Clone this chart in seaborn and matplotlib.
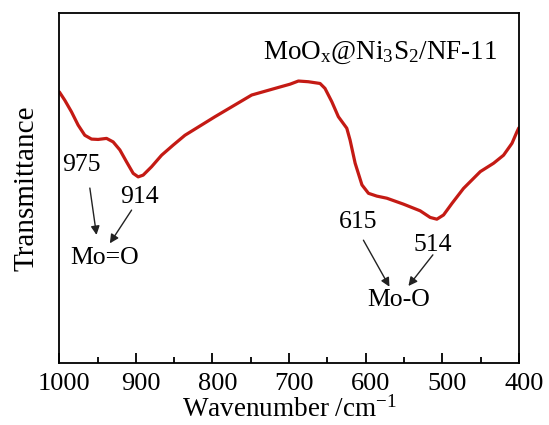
import matplotlib
matplotlib.use("Agg")
import matplotlib.pyplot as plt
import matplotlib.transforms as mtransforms
import seaborn as sns
import pandas as pd

# Data
wavenumber = [1000, 992.8, 984.1, 975.4, 966.7, 957.9, 949.3, 938.3, 929.7, 920.9,
              912.2, 903.5, 897.0, 890.5, 879.5, 866.4, 851.2, 835.9, 796.7, 748.8,
              711.8, 698.7, 687.8, 674.8, 659.5, 653.1, 644.2, 635.6, 624.6, 620.3,
              613.7, 604.8, 596.3, 585.4, 572.3, 550.6, 528.8, 515.7, 507.0, 498.3,
              487.3, 472.2, 450.3, 432.9, 419.9, 408.9, 402.4, 400]
transmittance = [77.5, 75.1, 71.8, 68.0, 65.1, 64.0, 63.9, 64.2, 63.2, 60.9,
                 57.5, 54.2, 53.2, 53.7, 56.1, 59.4, 62.3, 65.1, 70.4, 76.6,
                 78.9, 79.7, 80.6, 80.4, 79.9, 78.5, 74.7, 70.4, 67.1, 63.7,
                 57.1, 50.9, 48.5, 47.7, 47.1, 45.4, 43.5, 41.6, 41.1, 42.3,
                 45.6, 49.9, 54.7, 57.1, 59.4, 62.8, 66.1, 67.2]
x_ticks = [1000, 900, 800, 700, 600, 500, 400]
x_minor = [950, 850, 750, 650, 550, 450]
title_text = r'MoO$_\mathregular{x}$@Ni$_\mathregular{3}$S$_\mathregular{2}$/NF-11'
peak_labels = ["975", "914", "615", "514"]
group_labels = ["Mo=O", "Mo-O"]

sns.set_theme(style="white")
plt.rcParams['font.family'] = ['Liberation Serif', 'DejaVu Serif']
plt.rcParams['mathtext.default'] = 'regular'
plt.rcParams['text.color'] = 'black'
plt.rcParams['axes.labelcolor'] = 'black'
plt.rcParams['xtick.color'] = 'black'

df = pd.DataFrame({"w": wavenumber, "t": transmittance})

fig = plt.figure(figsize=(5.49, 4.25), dpi=100)
ax = fig.add_axes([0.108, 0.146, 0.837, 0.823])
sns.lineplot(data=df, x="w", y="t", ax=ax, color="#c41a14", linewidth=2.3, sort=False,
             solid_joinstyle='round', solid_capstyle='round')

ax.set_xlim(1000, 400)
ax.set_ylim(0, 100)
ax.set_xticks(x_ticks)
ax.set_xticks(x_minor, minor=True)
ax.set_yticks([])
ax.tick_params(axis='x', which='major', direction='in', length=7, width=1.3,
               labelsize=19, pad=7, bottom=True)
ax.tick_params(axis='x', which='minor', direction='in', length=4.5, width=1.3, bottom=True)
for s in ax.spines.values():
    s.set_color('black')
    s.set_linewidth(1.3)

shift = mtransforms.ScaledTranslation(5 / 100, 0, fig.dpi_scale_trans)
for lbl in ax.get_xticklabels():
    lbl.set_transform(lbl.get_transform() + shift)

ax.set_xlabel('Wavenumber /cm$^{-1}$', fontsize=19.5, labelpad=1)
ax.set_ylabel('Transmittance', fontsize=21, labelpad=14)

ax.text(428.5, 88.6, title_text, fontsize=19.5, ha='right', va='center')

fs = 18.5
arrow = dict(arrowstyle='-|>', color='#222222', lw=1.0, mutation_scale=13, shrinkA=0, shrinkB=0)
ax.text(971, 56.6, peak_labels[0], fontsize=fs, ha='center', va='center')
ax.text(894.8, 47.4, peak_labels[1], fontsize=fs, ha='center', va='center')
ax.text(940.5, 30.0, group_labels[0], fontsize=fs, ha='center', va='center')
ax.annotate('', xy=(951.4, 36.6), xytext=(960.1, 50.0), arrowprops=arrow)
ax.annotate('', xy=(934.0, 34.2), xytext=(905.6, 43.7), arrowprops=arrow)

ax.text(609.8, 40.3, peak_labels[2], fontsize=fs, ha='center', va='center')
ax.text(511.8, 33.7, peak_labels[3], fontsize=fs, ha='center', va='center')
ax.text(557.5, 18.0, group_labels[1], fontsize=fs, ha='center', va='center')
ax.annotate('', xy=(568.9, 21.8), xytext=(602.9, 35.1), arrowprops=arrow)
ax.annotate('', xy=(544.1, 22.0), xytext=(512.2, 30.9), arrowprops=arrow)

fig.savefig('out.png', dpi=100)
